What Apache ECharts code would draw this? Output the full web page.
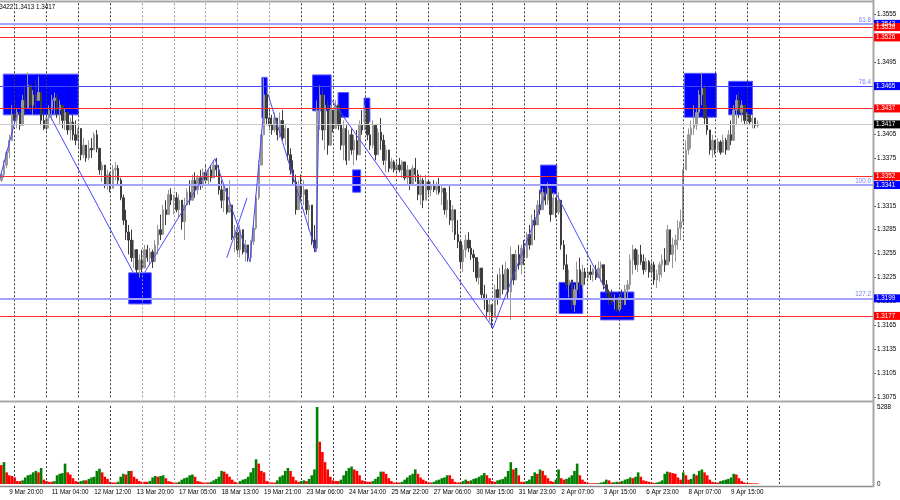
<!DOCTYPE html>
<html><head><meta charset="utf-8">
<script src="https://cdn.jsdelivr.net/npm/echarts@6/dist/echarts.min.js"></script>
<style>html,body{margin:0;padding:0;background:#fff;overflow:hidden}#c{width:900px;height:500px}</style>
</head><body><div id="c"></div>
<script>
// ---------- DATA (2-hour bars) ----------
const firstOpen = 1.3347;
const highs = [
1.3357,1.3372,1.3385,1.3404,1.3441,1.3447,1.3437,1.3429,1.3454,1.3466,
1.3482,1.3466,1.3460,1.3472,1.3477,1.3454,1.3435,1.3429,1.3441,1.3454,
1.3457,1.3454,1.3447,1.3441,1.3437,1.3432,1.3425,1.3429,1.3422,1.3416,
1.3412,1.3400,1.3391,1.3397,1.3400,1.3407,1.3410,1.3387,1.3370,1.3366,
1.3360,1.3357,1.3366,1.3370,1.3366,1.3350,1.3329,1.3310,1.3291,1.3285,
1.3272,1.3260,1.3254,1.3260,1.3266,1.3266,1.3262,1.3260,1.3272,1.3291,
1.3304,1.3316,1.3322,1.3335,1.3337,1.3329,1.3332,1.3329,1.3322,1.3325,
1.3337,1.3347,1.3354,1.3357,1.3354,1.3360,1.3362,1.3366,1.3362,1.3366,
1.3372,1.3375,1.3366,1.3347,1.3341,1.3335,1.3347,1.3316,1.3291,1.3285,
1.3291,1.3279,1.3272,1.3266,1.3272,1.3291,1.3329,1.3372,1.3410,1.3475,
1.3460,1.3437,1.3429,1.3432,1.3422,1.3432,1.3435,1.3416,1.3404,1.3387,
1.3372,1.3354,1.3347,1.3354,1.3347,1.3335,1.3322,1.3304,1.3291,1.3447,
1.3466,1.3462,1.3454,1.3447,1.3441,1.3435,1.3447,1.3441,1.3435,1.3422,
1.3416,1.3410,1.3412,1.3404,1.3410,1.3422,1.3435,1.3441,1.3429,1.3416,
1.3422,1.3410,1.3412,1.3425,1.3404,1.3391,1.3379,1.3375,1.3372,1.3372,
1.3375,1.3372,1.3370,1.3366,1.3360,1.3366,1.3375,1.3360,1.3354,1.3350,
1.3354,1.3347,1.3345,1.3347,1.3345,1.3350,1.3341,1.3335,1.3332,1.3341,
1.3316,1.3304,1.3297,1.3272,1.3266,1.3279,1.3282,1.3272,1.3260,1.3250,
1.3245,1.3235,1.3216,1.3204,1.3197,1.3191,1.3216,1.3229,1.3237,1.3241,
1.3245,1.3237,1.3264,1.3254,1.3260,1.3266,1.3266,1.3272,1.3282,1.3291,
1.3304,1.3310,1.3322,1.3335,1.3337,1.3341,1.3344,1.3335,1.3332,1.3325,
1.3332,1.3316,1.3272,1.3254,1.3235,1.3222,1.3216,1.3245,1.3250,1.3241,
1.3237,1.3235,1.3241,1.3237,1.3241,1.3245,1.3245,1.3237,1.3222,1.3210,
1.3210,1.3204,1.3200,1.3204,1.3210,1.3216,1.3222,1.3254,1.3266,1.3262,
1.3260,1.3266,1.3254,1.3250,1.3247,1.3245,1.3245,1.3235,1.3245,1.3254,
1.3262,1.3291,1.3285,1.3275,1.3279,1.3297,1.3310,1.3366,1.3397,1.3412,
1.3422,1.3441,1.3437,1.3460,1.3482,1.3466,1.3441,1.3410,1.3404,1.3397,
1.3400,1.3397,1.3404,1.3400,1.3410,1.3422,1.3441,1.3454,1.3457,1.3447,
1.3435,1.3432,1.3429,1.3429,1.3425,1.3422];
const lows = [
1.3345,1.3350,1.3362,1.3375,1.3404,1.3416,1.3412,1.3410,1.3420,1.3429,
1.3441,1.3432,1.3429,1.3437,1.3447,1.3416,1.3410,1.3407,1.3412,1.3422,
1.3429,1.3425,1.3416,1.3412,1.3410,1.3404,1.3397,1.3397,1.3391,1.3387,
1.3372,1.3375,1.3370,1.3372,1.3375,1.3385,1.3382,1.3354,1.3345,1.3337,
1.3335,1.3332,1.3337,1.3347,1.3341,1.3322,1.3291,1.3272,1.3254,1.3245,
1.3237,1.3229,1.3225,1.3232,1.3241,1.3245,1.3241,1.3237,1.3245,1.3254,
1.3272,1.3285,1.3291,1.3310,1.3316,1.3304,1.3307,1.3300,1.3285,1.3272,
1.3316,1.3316,1.3322,1.3325,1.3329,1.3335,1.3337,1.3341,1.3341,1.3345,
1.3350,1.3352,1.3329,1.3312,1.3307,1.3304,1.3307,1.3272,1.3257,1.3254,
1.3250,1.3254,1.3245,1.3245,1.3245,1.3266,1.3285,1.3322,1.3366,1.3410,
1.3416,1.3410,1.3404,1.3407,1.3397,1.3400,1.3397,1.3391,1.3372,1.3354,
1.3341,1.3304,1.3310,1.3322,1.3316,1.3304,1.3285,1.3266,1.3257,1.3260,
1.3410,1.3397,1.3385,1.3379,1.3404,1.3407,1.3412,1.3410,1.3385,1.3372,
1.3366,1.3372,1.3379,1.3366,1.3372,1.3391,1.3404,1.3410,1.3397,1.3385,
1.3387,1.3372,1.3385,1.3385,1.3366,1.3357,1.3357,1.3360,1.3357,1.3354,
1.3357,1.3350,1.3347,1.3341,1.3335,1.3341,1.3345,1.3322,1.3316,1.3312,
1.3322,1.3329,1.3327,1.3332,1.3329,1.3329,1.3316,1.3304,1.3300,1.3291,
1.3282,1.3272,1.3262,1.3237,1.3232,1.3250,1.3257,1.3247,1.3232,1.3220,
1.3216,1.3197,1.3185,1.3175,1.3170,1.3162,1.3175,1.3191,1.3200,1.3204,
1.3210,1.3197,1.3172,1.3216,1.3229,1.3235,1.3229,1.3241,1.3250,1.3260,
1.3266,1.3272,1.3291,1.3304,1.3310,1.3316,1.3316,1.3295,1.3304,1.3300,
1.3304,1.3260,1.3235,1.3210,1.3200,1.3185,1.3182,1.3197,1.3204,1.3210,
1.3216,1.3220,1.3222,1.3220,1.3222,1.3225,1.3220,1.3210,1.3200,1.3191,
1.3191,1.3185,1.3182,1.3182,1.3185,1.3191,1.3197,1.3210,1.3229,1.3235,
1.3232,1.3241,1.3229,1.3232,1.3225,1.3225,1.3216,1.3212,1.3220,1.3225,
1.3232,1.3254,1.3245,1.3237,1.3245,1.3260,1.3272,1.3291,1.3360,1.3379,
1.3387,1.3404,1.3410,1.3425,1.3441,1.3416,1.3404,1.3379,1.3375,1.3379,
1.3382,1.3379,1.3382,1.3379,1.3385,1.3391,1.3397,1.3416,1.3425,1.3420,
1.3416,1.3416,1.3416,1.3412,1.3412,1.3413];
const closes = [
1.3354,1.3366,1.3382,1.3397,1.3429,1.3422,1.3432,1.3416,1.3447,1.3437,
1.3466,1.3441,1.3454,1.3447,1.3457,1.3422,1.3412,1.3425,1.3435,1.3447,
1.3450,1.3435,1.3441,1.3422,1.3432,1.3410,1.3420,1.3404,1.3397,1.3412,
1.3379,1.3391,1.3375,1.3387,1.3385,1.3404,1.3387,1.3360,1.3366,1.3341,
1.3354,1.3337,1.3360,1.3362,1.3347,1.3325,1.3297,1.3282,1.3272,1.3250,
1.3260,1.3235,1.3247,1.3237,1.3260,1.3250,1.3257,1.3245,1.3266,1.3285,
1.3279,1.3310,1.3304,1.3329,1.3322,1.3325,1.3310,1.3322,1.3295,1.3316,
1.3332,1.3322,1.3347,1.3335,1.3350,1.3341,1.3357,1.3347,1.3360,1.3350,
1.3366,1.3360,1.3335,1.3322,1.3337,1.3307,1.3316,1.3275,1.3282,1.3260,
1.3285,1.3257,1.3266,1.3250,1.3270,1.3287,1.3325,1.3366,1.3404,1.3454,
1.3425,1.3416,1.3410,1.3425,1.3404,1.3422,1.3400,1.3412,1.3379,1.3360,
1.3345,1.3310,1.3341,1.3329,1.3335,1.3310,1.3316,1.3272,1.3262,1.3435,
1.3454,1.3410,1.3441,1.3391,1.3435,1.3412,1.3441,1.3416,1.3391,1.3412,
1.3372,1.3404,1.3385,1.3397,1.3379,1.3416,1.3410,1.3435,1.3404,1.3391,
1.3416,1.3379,1.3407,1.3397,1.3372,1.3385,1.3362,1.3370,1.3360,1.3366,
1.3360,1.3370,1.3350,1.3360,1.3341,1.3362,1.3354,1.3329,1.3347,1.3322,
1.3345,1.3335,1.3341,1.3335,1.3341,1.3332,1.3337,1.3310,1.3322,1.3297,
1.3310,1.3279,1.3270,1.3245,1.3260,1.3272,1.3262,1.3254,1.3250,1.3225,
1.3237,1.3204,1.3197,1.3182,1.3191,1.3175,1.3210,1.3200,1.3229,1.3210,
1.3235,1.3207,1.3254,1.3222,1.3254,1.3241,1.3262,1.3250,1.3279,1.3266,
1.3297,1.3291,1.3316,1.3310,1.3332,1.3322,1.3337,1.3304,1.3325,1.3307,
1.3322,1.3266,1.3241,1.3216,1.3222,1.3191,1.3210,1.3235,1.3216,1.3232,
1.3225,1.3232,1.3229,1.3235,1.3225,1.3237,1.3241,1.3216,1.3207,1.3200,
1.3195,1.3197,1.3185,1.3200,1.3191,1.3210,1.3216,1.3247,1.3260,1.3241,
1.3254,1.3245,1.3235,1.3245,1.3232,1.3241,1.3222,1.3229,1.3241,1.3247,
1.3241,1.3285,1.3254,1.3266,1.3272,1.3287,1.3295,1.3360,1.3385,1.3404,
1.3412,1.3416,1.3432,1.3454,1.3462,1.3425,1.3410,1.3385,1.3397,1.3385,
1.3395,1.3382,1.3397,1.3385,1.3404,1.3397,1.3435,1.3447,1.3432,1.3441,
1.3422,1.3429,1.3420,1.3425,1.3416,1.3417];
const volumes = [
1300,1500,800,600,550,450,200,200,250,450,
600,650,800,900,800,1100,300,200,150,150,
200,600,700,750,1400,800,650,400,200,150,
200,250,250,350,450,500,900,1050,800,500,
350,150,100,100,150,500,700,650,900,900,
500,350,200,150,150,150,200,450,550,500,
550,600,400,200,150,100,100,150,300,400,
450,600,650,500,200,150,100,100,100,150,
250,350,500,900,850,700,500,300,150,100,
200,300,350,500,800,1100,1700,1400,900,800,
200,150,100,100,250,500,600,900,1100,900,
500,250,150,200,250,200,350,600,1000,5288,
2900,2200,1500,1000,500,250,200,200,300,600,
900,1100,1200,1000,900,600,250,200,150,150,
200,350,500,850,850,700,400,200,100,100,
100,150,300,450,600,700,1000,700,450,300,
200,100,100,150,250,300,400,450,600,600,
350,150,100,100,200,300,200,250,350,400,
500,600,750,600,400,200,150,250,300,350,
500,900,1500,1000,1100,600,150,150,200,300,
550,800,700,1000,900,600,400,200,150,300,
1000,400,300,350,450,600,900,1400,600,300,
150,60,50,50,50,60,100,150,300,250,
100,120,150,150,200,300,350,450,400,500,
800,500,250,200,150,100,80,100,150,250,
700,850,800,750,700,450,300,800,600,300,
350,700,600,900,1000,800,600,300,150,100,
100,200,250,300,350,450,700,650,400,200,
100,60,60,50,50,40];
const dateLabels = ['9 Mar 20:00','11 Mar 04:00','12 Mar 12:00','13 Mar 20:00','17 Mar 05:00','18 Mar 13:00','19 Mar 21:00','23 Mar 06:00','24 Mar 14:00','25 Mar 22:00','27 Mar 06:00','30 Mar 15:00','31 Mar 23:00','2 Apr 07:00','3 Apr 15:00','6 Apr 23:00','8 Apr 07:00','9 Apr 15:00'];
const priceMin = 1.3075, priceMax = 1.35704, priceStep = 0.003;
const volMax = 5494, volTick = 5288;
const redLevels = [1.3539, 1.3526, 1.3437, 1.3352, 1.3177];
const fiboLevels = [1.3543, 1.3465, 1.3341, 1.3199];
const fiboNames = ['61.8', '76.4', '100.0', '127.2'];
const bidPrice = 1.3417;
const topText = '1.3422 1.3413 1.3417';
// zones: [fromBar, toBar, top price, bottom price]
const zones = [
[0.74,29.0,1.3480,1.3429],[48.0,56.5,1.3231,1.3192],[98.2,100.2,1.3476,1.3425],
[117.3,124.3,1.3479,1.3434],[126.9,130.9,1.3457,1.3426],[132.4,135.4,1.3360,1.3332],
[136.7,138.9,1.3450,1.3420],[203.2,209.3,1.3366,1.3330],[210.2,219.1,1.3219,1.3180],
[225.8,238.4,1.3207,1.3172],[257.5,269.5,1.3481,1.3426],[274.1,283.1,1.3471,1.3429]];
// zigzag segments: [bar, price]
const zigzag = [
[[-0.5,1.3350],[5.8,1.3429]],
[[18.0,1.3430],[49.6,1.3232]],
[[54.1,1.3232],[80.5,1.3374],[93.7,1.3245],[98.6,1.3425]],
[[100.5,1.3455],[118.6,1.3257],[119.7,1.3434]],
[[124.6,1.3447],[185.3,1.3162],[205.2,1.3332]],
[[209.0,1.3331],[228.2,1.3207]],
[[85.0,1.3250],[92.6,1.3325]]];

// ---------- LAYOUT / STYLE ----------
const NCAT = 329;
const FONT = 'Liberation Sans, Arial, sans-serif';
const FS = 6.3;
const cats = Array.from({length: NCAT}, (_, i) => String(i));
const sepLines = [];
for (let i = 5; i <= 293; i += 12) sepLines.push(i);
const lightSep = [53, 65, 77, 89, 101];
const firstLabel = 3, labelStep = 16;
const fiboColors = ['#a4a4ff', '#4646ff', '#a4a4ff', '#a4a4ff'];
const fiboWidths = [2, 1, 2, 2];

const candles = closes.map((c, i) => {
  const o = i === 0 ? firstOpen : closes[i - 1];
  return [o, c, Math.min(lows[i], o, c), Math.max(highs[i], o, c)];
});
const volData = volumes.map((v, i) => ({
  value: v,
  itemStyle: {color: (i > 0 && v > volumes[i - 1]) ? '#008000' : '#ff0000'}
}));

const vLineData = sepLines.map(i => ({
  xAxis: i,
  lineStyle: {color: lightSep.includes(i) ? '#9a9a9a' : '#3c3c3c', type: [2, 2], width: 1}
}));

const hLineData = [];
redLevels.forEach(v => hLineData.push({yAxis: v, lineStyle: {color: '#ff2a2a', width: 1.2, type: 'solid'}}));
fiboLevels.forEach((v, k) => hLineData.push({yAxis: v, lineStyle: {color: fiboColors[k], width: fiboWidths[k], type: 'solid'}}));
hLineData.push({yAxis: bidPrice, lineStyle: {color: '#c8c8c8', width: 1, type: 'solid'}});

const chart = echarts.init(document.getElementById('c'), null, {renderer: 'canvas'});
const option = {
  animation: false,
  backgroundColor: '#ffffff',
  grid: [
    {left: 0, right: 27, top: 2, height: 395.3},
    {left: 0, right: 27, top: 404, height: 80}
  ],
  xAxis: [
    {type: 'category', gridIndex: 0, data: cats, boundaryGap: true, axisLine: {show: false, onZero: false}, axisTick: {show: false}, axisLabel: {show: false}, splitLine: {show: false}},
    {type: 'value', gridIndex: 0, min: -0.5, max: NCAT - 0.5, show: false, axisLine: {onZero: false}, splitLine: {show: false}},
    {type: 'category', gridIndex: 1, data: cats, boundaryGap: true, axisLine: {show: false, onZero: false}, axisTick: {show: false},
      axisLabel: {
        show: true, align: 'left', margin: 5.5, fontSize: FS, fontFamily: FONT, color: '#000',
        interval: (idx) => idx >= firstLabel && (idx - firstLabel) % labelStep === 0 && (idx - firstLabel) / labelStep < dateLabels.length,
        formatter: (val, idx) => {
          const k = (idx - firstLabel) / labelStep;
          return Number.isInteger(k) && k >= 0 && k < dateLabels.length ? dateLabels[k] : '';
        }
      },
      splitLine: {show: false}}
  ],
  yAxis: [
    {type: 'value', gridIndex: 0, position: 'right', min: priceMin, max: priceMax, interval: priceStep, scale: true,
      axisLine: {show: false, onZero: false}, axisTick: {show: true, length: 3, lineStyle: {color: '#555'}},
      axisLabel: {show: true, showMaxLabel: false, margin: 4, fontSize: FS, fontFamily: FONT, color: '#000', formatter: v => v.toFixed(4)},
      splitLine: {show: false}},
    {type: 'value', gridIndex: 1, position: 'right', min: 0, max: volMax, interval: volTick,
      axisLine: {show: false, onZero: false}, axisTick: {show: false},
      axisLabel: {show: true, showMaxLabel: false, margin: 4, fontSize: FS, fontFamily: FONT, color: '#000', formatter: v => String(Math.round(v))},
      splitLine: {show: false}}
  ],
  series: [
    {
      type: 'custom', name: 'zones', xAxisIndex: 1, yAxisIndex: 0, z: 1, silent: true,
      encode: {x: [0, 1], y: [2, 3]},
      data: zones,
      renderItem: (params, api) => {
        const p1 = api.coord([api.value(0), api.value(2)]);
        const p2 = api.coord([api.value(1), api.value(3)]);
        return {type: 'rect', shape: {x: p1[0], y: p1[1], width: p2[0] - p1[0], height: p2[1] - p1[1]},
          style: {fill: '#0000ff', stroke: '#5a5aff', lineWidth: 1}};
      }
    },
    {
      type: 'line', name: 'sep', xAxisIndex: 0, yAxisIndex: 0, z: 2, data: [], silent: true,
      markLine: {silent: true, symbol: ['none', 'none'], label: {show: false}, animation: false, data: vLineData}
    },
    {
      type: 'candlestick', name: 'price', xAxisIndex: 0, yAxisIndex: 0, z: 3, data: candles, barWidth: 1.9,
      itemStyle: {color: '#969696', color0: '#3c3c3c', borderColor: '#969696', borderColor0: '#3c3c3c', borderWidth: 1}
    },
    {
      type: 'line', name: 'levels', xAxisIndex: 0, yAxisIndex: 0, z: 4, data: [], silent: true,
      markLine: {silent: true, precision: 4, symbol: ['none', 'none'], label: {show: false}, animation: false, data: hLineData}
    },
    ...zigzag.map((seg, k) => ({
      type: 'line', name: 'zz' + k, xAxisIndex: 1, yAxisIndex: 0, z: 5, data: seg, symbol: 'none', silent: true,
      lineStyle: {color: '#4a4aff', width: 1}
    })),
    {
      type: 'bar', name: 'volume', xAxisIndex: 2, yAxisIndex: 1, data: volData, barWidth: 2.6, z: 3,
      markLine: {silent: true, symbol: ['none', 'none'], label: {show: false}, animation: false, data: vLineData}
    }
  ]
};
chart.setOption(option);

// right-axis price tags, fibo labels, borders and header text
function buildGraphics() {
  const g = [];
  const toY = v => chart.convertToPixel({yAxisIndex: 0}, v);
  const tags = [];
  fiboLevels.forEach(v => tags.push({v, bg: '#0000ff'}));
  tags.push({v: bidPrice, bg: '#000000'});
  redLevels.forEach(v => tags.push({v, bg: '#ff0000'}));
  tags.forEach(t => {
    const y = toY(t.v);
    g.push({type: 'rect', z: 100, shape: {x: 874, y: y - 4, width: 26, height: 8}, style: {fill: t.bg}});
    g.push({type: 'text', z: 101, x: 876, y: y + 0.3, style: {text: t.v.toFixed(4), fill: '#fff', font: FS + 'px ' + FONT, verticalAlign: 'middle', align: 'left'}});
  });
  fiboLevels.forEach((v, k) => {
    const y = toY(v);
    g.push({type: 'text', z: 90, x: 871, y: y - 1, style: {text: fiboNames[k], fill: '#7a7aff', font: FS + 'px ' + FONT, verticalAlign: 'bottom', align: 'right'}});
  });
  g.push({type: 'line', z: 80, shape: {x1: 0, y1: 1.5, x2: 874, y2: 1.5}, style: {stroke: '#a8a8a8', lineWidth: 2}});
  g.push({type: 'line', z: 80, shape: {x1: 0, y1: 401.5, x2: 874, y2: 401.5}, style: {stroke: '#a8a8a8', lineWidth: 2}});
  g.push({type: 'line', z: 80, shape: {x1: 0, y1: 486.5, x2: 874, y2: 486.5}, style: {stroke: '#8a8a8a', lineWidth: 1.5}});
  g.push({type: 'line', z: 80, shape: {x1: 873.5, y1: 0, x2: 873.5, y2: 487}, style: {stroke: '#a8a8a8', lineWidth: 2}});
  g.push({type: 'text', z: 90, x: -6, y: 4, style: {text: topText, fill: '#000', font: FS + 'px ' + FONT, verticalAlign: 'top', align: 'left'}});
  chart.setOption({graphic: g});
}
buildGraphics();
</script>
</body></html>
